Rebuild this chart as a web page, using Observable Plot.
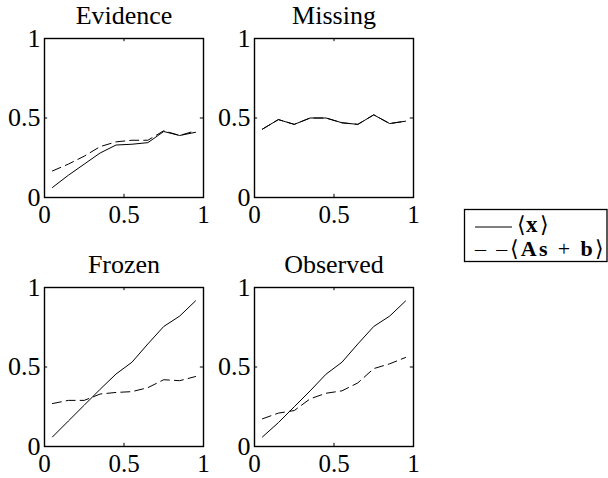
<!DOCTYPE html>
<html><head><meta charset="utf-8">
<script src="https://cdn.jsdelivr.net/npm/d3@7"></script>
<script src="https://cdn.jsdelivr.net/npm/@observablehq/plot@0.6"></script>
<style>
html,body{margin:0;padding:0;background:#fff;}
#root{position:relative;width:608px;height:478px;overflow:hidden;font-family:'Liberation Serif';}
.panel{position:absolute;}
.panel svg{overflow:visible;}
#legend{position:absolute;left:0;top:0;pointer-events:none;}
</style></head><body><div id="root"></div>
<script>
// data
const xs = [0.05, 0.15, 0.25, 0.35, 0.45, 0.55, 0.65, 0.75, 0.85, 0.95];
const titles = ["Evidence", "Missing", "Frozen", "Observed"];
const evidenceX  = [0.063, 0.14, 0.21, 0.28, 0.33, 0.335, 0.345, 0.415, 0.39, 0.41];
const evidenceAs = [0.167, 0.21, 0.26, 0.32, 0.35, 0.36, 0.36, 0.42, 0.39, 0.42];
const missingX   = [0.43, 0.49, 0.46, 0.50, 0.50, 0.47, 0.46, 0.52, 0.465, 0.48];
const missingAs  = [0.43, 0.49, 0.46, 0.50, 0.50, 0.47, 0.46, 0.52, 0.465, 0.48];
const frozenX    = [0.06, 0.16, 0.26, 0.36, 0.456, 0.53, 0.645, 0.755, 0.82, 0.916];
const frozenAs   = [0.27, 0.29, 0.29, 0.33, 0.34, 0.345, 0.37, 0.42, 0.414, 0.44];
const observedX  = [0.06, 0.15, 0.25, 0.35, 0.455, 0.53, 0.645, 0.755, 0.82, 0.915];
const observedAs = [0.174, 0.21, 0.226, 0.30, 0.335, 0.35, 0.40, 0.49, 0.52, 0.56];
const tickValues = [0, 0.5, 1];
const innerTicks = [0.5];

const root = document.getElementById("root");
const FONT = "'Liberation Serif'";

function panel(title, solid, dashed, left, top) {
  const a = xs.map((x, i) => ({x, y: solid[i]}));
  const b = xs.map((x, i) => ({x, y: dashed[i]}));
  const chart = Plot.plot({
    width: 213, height: 229,
    marginLeft: 44, marginRight: 10, marginTop: 38, marginBottom: 32,
    x: {domain: [0, 1]},
    y: {domain: [0, 1]},
    style: {fontFamily: FONT, fontSize: "26px", background: "transparent", color: "black"},
    marks: [
      Plot.axisX(tickValues, {tickSize: 0, tickPadding: 8, label: null, tickFormat: d => String(d), fontSize: 25, fontFamily: FONT}),
      Plot.axisY(tickValues, {tickSize: 0, tickPadding: 4, label: null, tickFormat: d => String(d), fontSize: 26, fontFamily: FONT}),
      Plot.ruleX(innerTicks, {x: d => d, y1: 0, y2: 0.02, stroke: "black", strokeWidth: 1}),
      Plot.ruleX(innerTicks, {x: d => d, y1: 0.98, y2: 1, stroke: "black", strokeWidth: 1}),
      Plot.ruleY(innerTicks, {y: d => d, x1: 0, x2: 0.02, stroke: "black", strokeWidth: 1}),
      Plot.ruleY(innerTicks, {y: d => d, x1: 0.98, x2: 1, stroke: "black", strokeWidth: 1}),
      Plot.line(b, {x: "x", y: "y", stroke: "black", strokeWidth: 1, strokeDasharray: "9,5"}),
      Plot.line(a, {x: "x", y: "y", stroke: "black", strokeWidth: 1}),
      Plot.frame({stroke: "black", strokeWidth: 1.4}),
      Plot.text([title], {text: d => d, frameAnchor: "top", dy: -15, lineAnchor: "bottom", fontSize: 26, fontFamily: FONT, fill: "black"})
    ]
  });
  const div = document.createElement("div");
  div.className = "panel";
  div.style.left = left + "px";
  div.style.top = top + "px";
  div.appendChild(chart);
  root.appendChild(div);
}

panel(titles[0], evidenceX, evidenceAs, 0, 0);
panel(titles[1], missingX, missingAs, 210, 0);
panel(titles[2], frozenX, frozenAs, 0, 249);
panel(titles[3], observedX, observedAs, 210, 249);

// legend
const NS = "http://www.w3.org/2000/svg";
const lg = document.createElementNS(NS, "svg");
lg.setAttribute("id", "legend");
lg.setAttribute("width", 608);
lg.setAttribute("height", 478);
lg.innerHTML =
  `<rect x="464.5" y="209.5" width="142.5" height="52" fill="white" stroke="black" stroke-width="1.3"/>` +
  `<line x1="475" x2="512" y1="227" y2="227" stroke="black" stroke-width="1"/>` +
  `<text x="517" y="232" font-family="Liberation Serif" font-size="22">⟨</text>` +
  `<text x="526" y="232" font-family="Liberation Serif" font-size="23" font-weight="bold">x</text>` +
  `<text x="540" y="232" font-family="Liberation Serif" font-size="22">⟩</text>` +
  `<text x="475" y="256" font-family="Liberation Serif" font-size="22" textLength="129" lengthAdjust="spacing">– –⟨<tspan font-weight="bold">As</tspan> + <tspan font-weight="bold">b</tspan>⟩</text>`;
root.appendChild(lg);
</script>
</body></html>
